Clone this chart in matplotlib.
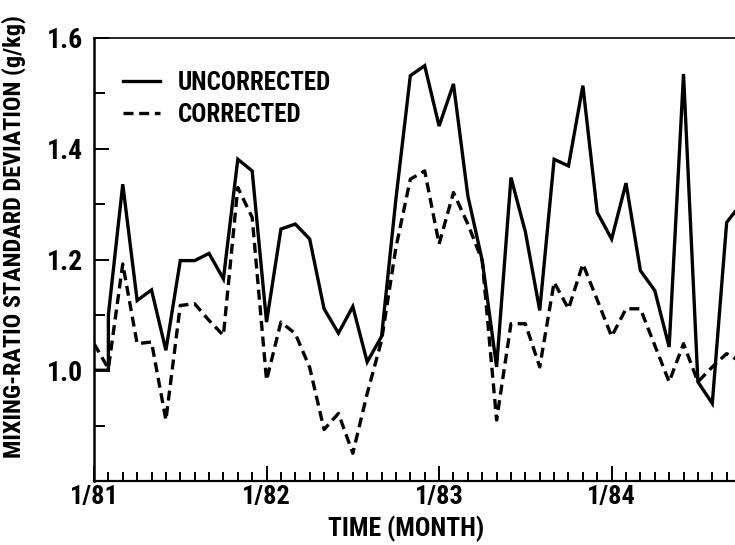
import matplotlib
matplotlib.use("Agg")
import matplotlib.pyplot as plt
from matplotlib import font_manager
from matplotlib.ticker import MultipleLocator, FixedLocator, FixedFormatter

# monthly values, month 0 = 1/81
uncorr_month = [0, 1, 1] + list(range(2, 46))
uncorr_val = [1.00, 1.00, 1.10, 1.336, 1.126, 1.145, 1.036, 1.198, 1.198, 1.211,
              1.165, 1.381, 1.360, 1.087, 1.255, 1.264, 1.237, 1.111, 1.067, 1.115,
              1.015, 1.061, 1.310, 1.532, 1.550, 1.441, 1.517, 1.315, 1.198, 1.006,
              1.348, 1.250, 1.108, 1.381, 1.369, 1.514, 1.285, 1.237, 1.338, 1.180,
              1.144, 1.042, 1.535, 0.979, 0.940, 1.267, 1.300]

corr_month = list(range(0, 46))
corr_val = [1.048, 1.003, 1.192, 1.048, 1.051, 0.910, 1.117, 1.120, 1.090, 1.063,
            1.330, 1.276, 0.982, 1.087, 1.066, 1.005, 0.893, 0.922, 0.850, 0.958,
            1.054, 1.222, 1.345, 1.360, 1.228, 1.321, 1.264, 1.198, 0.910, 1.084,
            1.084, 1.006, 1.159, 1.111, 1.192, 1.127, 1.061, 1.111, 1.111, 1.045,
            0.979, 1.048, 0.979, 1.006, 1.030, 1.015]

year_ticks = [0, 12, 24, 36]
year_labels = ["1/81", "1/82", "1/83", "1/84"]

# narrow face if one is installed
names = {f.name for f in font_manager.fontManager.ttflist}
narrow = next((n for n in ['Roboto Condensed', 'Liberation Sans Narrow',
                           'DejaVu Sans Condensed'] if n in names), 'DejaVu Sans')
plt.rcParams['font.family'] = [narrow, 'DejaVu Sans']
plt.rcParams['font.weight'] = 'bold'
plt.rcParams['axes.labelweight'] = 'bold'

fig = plt.figure(figsize=(7.35, 5.45), dpi=100)
ax = fig.add_axes([94 / 735, 1 - 481 / 545, 641 / 735, 443 / 545])

ax.plot(uncorr_month, uncorr_val, color='black', lw=2.4, solid_joinstyle='miter',
        label='UNCORRECTED')
ax.plot(corr_month, corr_val, color='black', lw=2.4, linestyle=(0, (3.0, 1.7)),
        label='CORRECTED')

ax.set_xlim(0, 44.58)
ax.set_ylim(0.8, 1.6)

ax.xaxis.set_major_locator(FixedLocator(year_ticks))
ax.xaxis.set_major_formatter(FixedFormatter(year_labels))
ax.xaxis.set_minor_locator(MultipleLocator(1))
ax.yaxis.set_major_locator(FixedLocator([1.0, 1.2, 1.4, 1.6]))
ax.yaxis.set_minor_locator(FixedLocator([0.9, 1.1, 1.3, 1.5]))
ax.yaxis.set_major_formatter(plt.FuncFormatter(lambda v, p: f"{v:.1f}"))

ax.tick_params(axis='x', which='major', direction='in', length=10.5, width=1.4,
               labelsize=19, pad=3)
ax.tick_params(axis='x', which='minor', direction='in', length=6.5, width=1.4)
ax.tick_params(axis='y', which='major', direction='in', length=10.5, width=1.4,
               labelsize=20, pad=8)
ax.tick_params(axis='y', which='minor', direction='in', length=8, width=1.4)

ax.spines['right'].set_visible(False)
ax.spines['left'].set_linewidth(1.8)
ax.spines['bottom'].set_linewidth(1.6)
ax.spines['top'].set_linewidth(1.2)

ax.set_xlabel('TIME (MONTH)', fontsize=18.5)
ax.xaxis.set_label_coords(0.487, -0.078)
ax.set_ylabel('MIXING-RATIO STANDARD DEVIATION (g/kg)', fontsize=17.5)
ax.yaxis.set_label_coords(-0.106, 0.551)

ax.legend(loc='upper left', bbox_to_anchor=(0.045, 0.925), frameon=False,
          fontsize=18, handlelength=1.5, handletextpad=0.7, labelspacing=0.3,
          borderpad=0, borderaxespad=0)

fig.savefig('out.png', dpi=100)
